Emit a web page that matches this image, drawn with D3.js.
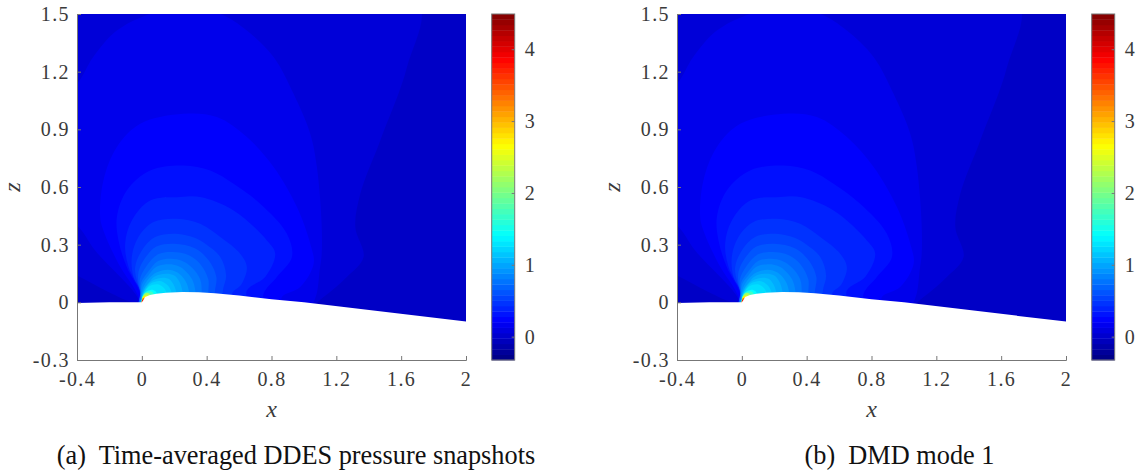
<!DOCTYPE html>
<html lang="en">
<head>
  <title>Pressure contours</title>
  <meta charset="utf-8">
  <script src="https://cdnjs.cloudflare.com/ajax/libs/d3/7.8.5/d3.min.js"></script>
  <style>
    html, body { margin: 0; padding: 0; background: #fff; }
    text { font-family: "Liberation Serif", serif; fill: #3a3a3a; }
    .tick text { letter-spacing: 1.4px; }
    .axis path, .axis line { stroke: #777; }
    text.caption { fill: #111; }
  </style>
</head>
<body>
<svg id="chart" width="1139" height="474"></svg>
<script>
var xTicks = [-0.4, 0, 0.4, 0.8, 1.2, 1.6, 2]
var zTicks = [-0.3, 0, 0.3, 0.6, 0.9, 1.2, 1.5]
var barTicks = [0, 1, 2, 3, 4]
var captions = ["(a)  Time-averaged DDES pressure snapshots", "(b)  DMD mode 1"]

// top of the wall, x and z, left to right
var wall = [[-0.4,-0.003],[-0.2,0],[0,0],[0.01,0.012],[0.02,0.028],[0.05,0.038],[0.09,0.045],[0.15,0.05],[0.25,0.054],[0.35,0.053],
  [0.45,0.047],[0.6,0.035],[0.8,0.016],[1,0],[2,-0.1]]

// pressure of each filled contour, lowest first
var baseLevel = -0.02
var levels = [0.06, 0.14, 0.22, 0.30, 0.38, 0.46, 0.54, 0.62, 0.70, 0.78, 0.86, 0.94, 1.02, 1.10, 1.18, 1.26, 1.42, 1.7, 2.2, 2.7, 3.3, 3.9]

// contour outlines, same order as levels
var contours = [
  [[1.698,1.57],[1.636,1.224],[1.471,0.842],[1.348,0.565],[1.317,0.392],[1.368,0.236],[1.265,0.132],[1.121,0.028],[0.998,-0.04],[-0.02,-0.007],[-0.206,0.054],[-0.4,0.14],[-0.6,0.2],[-0.6,1.6]],
  [[-0.6,1.0],[-0.4,1.137],[-0.3,1.276],[-0.154,1.414],[0.051,1.5],[0.25,1.53],[0.484,1.5],[0.648,1.414],[0.813,1.276],[0.936,1.085],[1.039,0.877],[1.08,0.704],[1.111,0.357],[1.1,0.184],[1.019,-0.04],[-0.01,-0.04],[-0.021,0.019],[-0.288,0.27],[-0.4,0.4],[-0.6,0.5]],
  [[0.257,0.981],[-0.01,0.929],[-0.154,0.808],[-0.237,0.634],[-0.257,0.444],[-0.237,0.374],[-0.144,0.201],[-0.021,0.028],[-0.021,-0.04],[0.864,-0.04],[0.864,0.028],[0.977,0.08],[1.06,0.201],[1.039,0.305],[0.957,0.496],[0.813,0.704],[0.648,0.86],[0.463,0.964]],
  [[0.257,0.712],[0.051,0.686],[-0.093,0.582],[-0.154,0.444],[-0.144,0.322],[-0.093,0.184],[-0.01,0.045],[-0.01,-0.04],[0.751,-0.04],[0.751,0.045],[0.833,0.132],[0.926,0.236],[0.895,0.357],[0.73,0.513],[0.566,0.617],[0.422,0.686]],
  [[0.237,0.548],[0.051,0.53],[-0.062,0.426],[-0.103,0.305],[-0.082,0.184],[-0.01,0.054],[-0.01,-0.04],[0.648,-0.04],[0.648,0.062],[0.761,0.132],[0.823,0.253],[0.772,0.322],[0.566,0.478],[0.36,0.548]],
  [[0.216,0.435],[0.072,0.418],[-0.021,0.34],[-0.062,0.236],[-0.051,0.132],[-0.01,0.062],[-0.01,-0.04],[0.556,-0.04],[0.556,0.045],[0.617,0.097],[0.648,0.184],[0.607,0.253],[0.484,0.34],[0.36,0.409]],
  [[0.21,0.357],[0.082,0.34],[0,0.27],[-0.041,0.184],[-0.03,0.11],[-0.01,0.06],[-0.01,-0.04],[0.5,-0.04],[0.5,0.06],[0.52,0.14],[0.484,0.236],[0.4,0.3],[0.33,0.335]],
  [[0.2,0.305],[0.09,0.29],[0.02,0.23],[-0.02,0.16],[-0.02,0.09],[-0.008,0.05],[-0.008,-0.04],[0.45,-0.04],[0.45,0.05],[0.46,0.13],[0.42,0.21],[0.33,0.28]],
  [[0.19,0.262],[0.1,0.25],[0.03,0.19],[-0.012,0.12],[-0.008,0.05],[-0.006,-0.04],[0.41,-0.04],[0.41,0.05],[0.41,0.12],[0.36,0.2],[0.29,0.245]],
  [[0.18,0.227],[0.1,0.215],[0.04,0.16],[-0.005,0.1],[-0.005,0.04],[-0.005,-0.04],[0.37,-0.04],[0.37,0.05],[0.36,0.12],[0.31,0.18],[0.25,0.215]],
  [[0.17,0.198],[0.09,0.185],[0.04,0.14],[0,0.09],[-0.004,0.03],[-0.004,-0.04],[0.33,-0.04],[0.33,0.06],[0.31,0.12],[0.26,0.17],[0.22,0.19]],
  [[0.16,0.17],[0.09,0.155],[0.04,0.12],[0.005,0.07],[-0.003,0.03],[-0.003,-0.04],[0.29,-0.04],[0.29,0.06],[0.27,0.11],[0.22,0.155]],
  [[0.15,0.149],[0.08,0.135],[0.04,0.1],[0.008,0.06],[-0.002,0.02],[-0.002,-0.04],[0.25,-0.04],[0.25,0.06],[0.23,0.11],[0.2,0.14]],
  [[0.13,0.128],[0.07,0.115],[0.03,0.085],[0.008,0.05],[0,0.02],[0,-0.04],[0.21,-0.04],[0.21,0.06],[0.19,0.1],[0.17,0.12]],
  [[0.11,0.111],[0.06,0.1],[0.03,0.075],[0.008,0.045],[0,0.02],[0,-0.04],[0.18,-0.04],[0.18,0.06],[0.15,0.095]],
  [[0.095,0.094],[0.05,0.085],[0.025,0.065],[0.008,0.04],[0,0.015],[0,-0.04],[0.15,-0.04],[0.15,0.055],[0.13,0.08]],
  [[0.06,0.066],[0.03,0.058],[0.015,0.045],[0.004,0.03],[0,0.01],[0,-0.04],[0.09,-0.04],[0.09,0.05],[0.08,0.06]],
  [[0.045,0.058],[0.02,0.05],[0.008,0.035],[0,0.01],[0,-0.04],[0.07,-0.04],[0.07,0.05]],
  [[0.03,0.048],[0.012,0.04],[0.004,0.025],[0,0.01],[0,-0.04],[0.05,-0.04],[0.05,0.042]],
  [[0.022,0.036],[0.008,0.03],[0.002,0.015],[0,-0.04],[0.04,-0.04],[0.035,0.035]],
  [[0.014,0.024],[0.005,0.02],[0.001,0.01],[0,-0.04],[0.03,-0.04],[0.02,0.022]],
  [[0.008,0.014],[0.003,0.012],[0,-0.04],[0.02,-0.04],[0.012,0.014]]
]

var barMin = -0.325, barMax = 4.49
var jet = d3.scaleLinear()
  .domain([0, 0.115, 0.36, 0.62, 0.87, 1])
  .range(["#000080", "#0000ff", "#00ffff", "#ffff00", "#ff0000", "#800000"])
var color = function (v) { return jet((v - barMin) / (barMax - barMin)) }

var svg = d3.select("#chart")
var panelLeft = [77, 677]

function drawPanel(left, i) {
  var x = d3.scaleLinear().domain([-0.4, 2]).range([left, left + 389])
  var z = d3.scaleLinear().domain([-0.3, 1.5]).range([360, 14])
  var g = svg.append("g")

  svg.append("clipPath").attr("id", "plot" + i).append("rect")
    .attr("x", x(-0.4)).attr("y", z(1.5))
    .attr("width", x(2) - x(-0.4)).attr("height", z(-0.3) - z(1.5))

  var shape = d3.line().x(function (d) { return x(d[0]) }).y(function (d) { return z(d[1]) })
    .curve(d3.curveCatmullRomClosed.alpha(0.5))
  var field = g.append("g").attr("clip-path", "url(#plot" + i + ")")

  field.append("rect").attr("x", x(-0.4)).attr("y", z(1.5))
    .attr("width", x(2) - x(-0.4)).attr("height", z(-0.3) - z(1.5))
    .attr("fill", color(baseLevel))

  field.selectAll("path.level").data(contours).enter().append("path")
    .attr("class", "level")
    .attr("d", shape)
    .attr("fill", function (d, k) { return color(levels[k]) })

  // white below the wall
  var below = wall.concat([[2, -0.3], [-0.4, -0.3]])
  field.append("path")
    .attr("d", d3.line().x(function (d) { return x(d[0]) }).y(function (d) { return z(d[1]) })(below) + "Z")
    .attr("fill", "#fff")

  var xAxis = d3.axisBottom(x).tickValues(xTicks).tickSize(-4).tickPadding(12).tickFormat(function (d) { return String(d) })
  var zAxis = d3.axisLeft(z).tickValues(zTicks).tickSize(-4).tickPadding(7).tickFormat(function (d) { return String(d) })
  var gx = g.append("g").attr("class", "axis").attr("transform", "translate(0,360)").call(xAxis)
  var gz = g.append("g").attr("class", "axis").attr("transform", "translate(" + left + ",0)").call(zAxis)
  gx.selectAll("text").attr("font-size", 20)
  gz.selectAll("text").attr("font-size", 20)

  g.append("text").attr("x", x(0.8)).attr("y", 417).attr("text-anchor", "middle")
    .attr("font-size", 24).attr("font-style", "italic").text("x")
  g.append("text").attr("transform", "translate(" + (left - 57) + ",187) rotate(-90)")
    .attr("text-anchor", "middle").attr("font-size", 24).attr("font-style", "italic").text("z")

  // colorbar, 64 steps like the matlab colormap
  var barX = left + 414.7
  var bar = d3.scaleLinear().domain([barMin, barMax]).range([360, 14])
  var steps = d3.range(64)
  g.selectAll("rect.step").data(steps).enter().append("rect")
    .attr("class", "step")
    .attr("x", barX).attr("width", 23)
    .attr("y", function (k) { return bar(barMin + (k + 1) * (barMax - barMin) / 64) })
    .attr("height", 346 / 64 + 0.4)
    .attr("fill", function (k) { return jet((k + 0.5) / 64) })
  g.append("rect").attr("x", barX).attr("y", 14).attr("width", 23).attr("height", 346)
    .attr("fill", "none").attr("stroke", "#777")
  var barAxis = d3.axisRight(bar).tickValues(barTicks).tickSize(-3).tickPadding(10).tickFormat(function (d) { return String(d) })
  var gb = g.append("g").attr("class", "axis").attr("transform", "translate(" + (barX + 23) + ",0)").call(barAxis)
  gb.select(".domain").remove()
  gb.selectAll("text").attr("font-size", 20)
}

panelLeft.forEach(drawPanel)

svg.selectAll("text.caption").data(captions).enter().append("text")
  .attr("class", "caption")
  .attr("x", function (d, i) { return [296, 899.5][i] })
  .attr("y", 464)
  .attr("text-anchor", "middle")
  .attr("font-size", 26.3)
  .style("white-space", "pre")
  .text(function (d) { return d })
</script>
</body>
</html>
